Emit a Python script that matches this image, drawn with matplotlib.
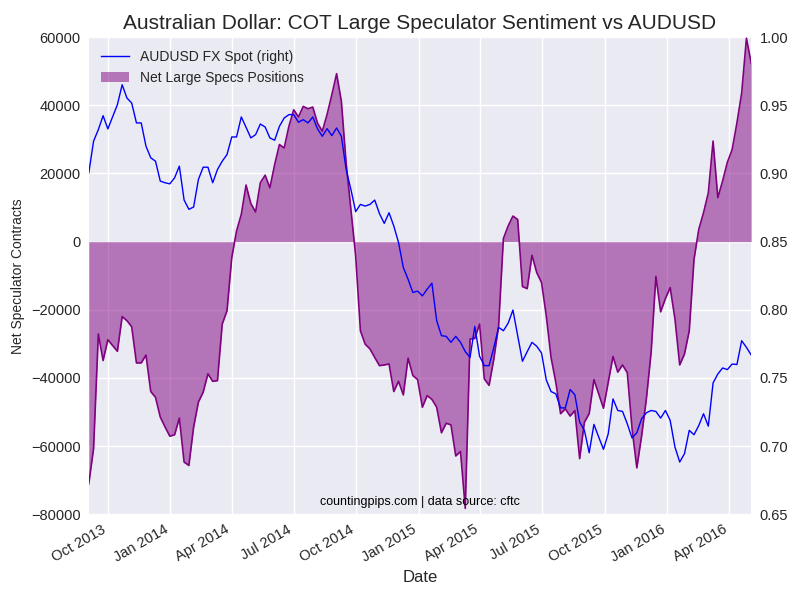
"""AUD COT large speculator positions vs AUDUSD spot
"""
import numpy as np
import pandas as pd
import matplotlib as mpl
mpl.use("Agg")
import matplotlib.pyplot as plt
import matplotlib.dates as mdates
from matplotlib.patches import Patch
from matplotlib.lines import Line2D

# weekly COT reports (Tuesdays)
start_date = "2013-09-03"
n_weeks = 140

net_specs = [
    -71000, -60800, -27100, -34900, -28800, -30500, -32200, -22000, -23200, -25000,
    -35600, -35600, -33300, -44000, -45700, -51500, -54400, -57100, -56700, -51800,
    -64700, -65700, -54400, -47100, -44200, -38800, -41000, -40800, -24200, -20300,
    -4700, 3100, 8000, 16600, 11200, 8700, 17300, 19500, 15800, 22600,
    28500, 27500, 33900, 38700, 36600, 39700, 39000, 39500, 34800, 32400,
    37300, 43100, 49300, 41200, 23100, 9500, -4200, -26200, -30100, -31500,
    -34000, -36400, -36200, -35900, -44000, -41000, -45000, -34200, -39300, -40500,
    -48600, -45200, -46300, -48600, -56100, -53300, -53800, -62900, -61600, -78300,
    -28600, -28400, -24200, -40300, -42200, -34400, -24700, 900, 4600, 7500,
    6500, -13200, -13800, -4000, -9100, -12000, -21800, -34000, -41300, -50500,
    -49100, -51200, -49600, -63700, -53000, -50500, -40500, -44700, -48900, -41300,
    -33700, -38300, -36200, -38500, -54900, -66400, -57100, -46200, -32500, -10200,
    -20600, -16700, -13500, -22700, -36200, -33000, -26200, -5200, 3600, 8500,
    14300, 29500, 12900, 17800, 23300, 27000, 34800, 43600, 59700, 52400,
]

audusd = [
    0.9005, 0.9237, 0.9322, 0.9424, 0.9327, 0.9415, 0.9505, 0.9651, 0.9554, 0.9517,
    0.9371, 0.9371, 0.9200, 0.9115, 0.9090, 0.8944, 0.8932, 0.8924, 0.8968, 0.9054,
    0.8805, 0.8737, 0.8754, 0.8956, 0.9046, 0.9046, 0.8932, 0.9029, 0.9090, 0.9139,
    0.9268, 0.9268, 0.9415, 0.9339, 0.9261, 0.9285, 0.9363, 0.9341, 0.9261, 0.9244,
    0.9346, 0.9407, 0.9432, 0.9432, 0.9376, 0.9395, 0.9371, 0.9415, 0.9327, 0.9273,
    0.9329, 0.9278, 0.9334, 0.9273, 0.9029, 0.8883, 0.8720, 0.8773, 0.8761, 0.8773,
    0.8805, 0.8705, 0.8634, 0.8712, 0.8615, 0.8493, 0.8310, 0.8224, 0.8127, 0.8137,
    0.8102, 0.8151, 0.8195, 0.7920, 0.7810, 0.7805, 0.7761, 0.7805, 0.7761, 0.7693,
    0.7651, 0.7878, 0.7659, 0.7590, 0.7590, 0.7724, 0.7871, 0.7846, 0.7902, 0.7998,
    0.7810, 0.7622, 0.7693, 0.7761, 0.7732, 0.7683, 0.7485, 0.7400, 0.7383, 0.7280,
    0.7280, 0.7415, 0.7376, 0.7176, 0.7115, 0.6951, 0.7159, 0.7066, 0.6976, 0.7090,
    0.7346, 0.7261, 0.7254, 0.7163, 0.7059, 0.7098, 0.7200, 0.7244, 0.7261, 0.7254,
    0.7205, 0.7261, 0.7188, 0.6993, 0.6883, 0.6944, 0.7115, 0.7083, 0.7151, 0.7237,
    0.7146, 0.7463, 0.7529, 0.7573, 0.7561, 0.7602, 0.7598, 0.7773, 0.7724, 0.7668,
]

left_ticks = [-80000, -60000, -40000, -20000, 0, 20000, 40000, 60000]
right_ticks = [0.65, 0.70, 0.75, 0.80, 0.85, 0.90, 0.95, 1.00]

title = "Australian Dollar: COT Large Speculator Sentiment vs AUDUSD"
source_note = "countingpips.com | data source: cftc"

# old seaborn darkgrid look
plt.rcParams.update({
    'font.family': ['Liberation Sans', 'DejaVu Sans'],
    'axes.facecolor': '#EAEAF2',
    'axes.edgecolor': 'white',
    'axes.grid': True,
    'grid.color': 'white',
    'grid.linewidth': 1.0,
    'axes.axisbelow': True,
    'text.color': '.15',
    'axes.labelcolor': '.15',
    'xtick.color': '.15',
    'ytick.color': '.15',
    'xtick.major.size': 0,
    'ytick.major.size': 0,
})

dates = pd.date_range(start_date, periods=n_weeks, freq='7D')
net_specs = np.array(net_specs)
audusd = np.array(audusd)

fig = plt.figure(figsize=(8, 6), dpi=100)
ax = fig.add_axes([0.111, 0.143, 0.828, 0.795])
for s in ax.spines.values():
    s.set_visible(False)

ax.fill_between(dates, 0, net_specs, color='purple', alpha=0.5, linewidth=0)
ax.plot(dates, net_specs, color='purple', linewidth=1.2)
ax.set_ylim(-80000, 60000)
ax.set_yticks(left_ticks)
ax.set_xlim(dates[0], dates[-1])
ax.set_ylabel("Net Speculator Contracts", fontsize=10)
ax.set_xlabel("Date", fontsize=12)
ax.set_title(title, fontsize=15)
ax.tick_params(axis='both', labelsize=10.5, pad=6)

ax.xaxis.set_major_locator(mdates.MonthLocator(bymonth=[1, 4, 7, 10]))
ax.xaxis.set_major_formatter(mdates.DateFormatter('%b %Y'))
for lbl in ax.get_xticklabels():
    lbl.set_rotation(30)
    lbl.set_ha('right')

ax2 = ax.twinx()
ax2.patch.set_visible(False)
ax2.grid(False)
for s in ax2.spines.values():
    s.set_visible(False)
ax2.plot(dates, audusd, color='blue', linewidth=1.0)
ax2.set_ylim(0.65, 1.00)
ax2.set_yticks(right_ticks)
ax2.set_yticklabels([f"{t:.2f}" for t in right_ticks])
ax2.tick_params(axis='y', labelsize=10.5, pad=6)
ax2.set_xlim(dates[0], dates[-1])

handles = [Line2D([0], [0], color='blue', linewidth=1.0),
           Patch(facecolor='purple', alpha=0.5, edgecolor='none')]
ax2.legend(handles, ["AUDUSD FX Spot (right)", "Net Large Specs Positions"],
           loc='upper left', frameon=False, fontsize=10)

ax2.text(0.5, 0.012, source_note, transform=ax2.transAxes, ha='center',
         va='bottom', fontsize=9, color='black')

fig.savefig('out.png', dpi=100)
